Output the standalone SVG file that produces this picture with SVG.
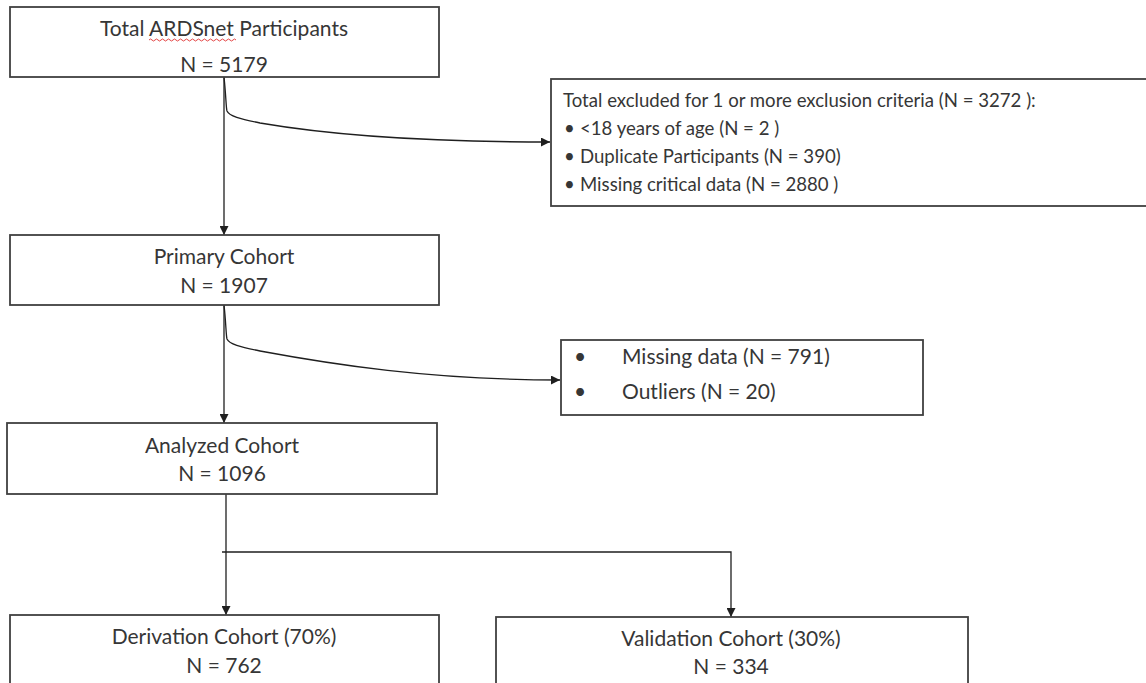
<svg xmlns="http://www.w3.org/2000/svg" width="1146" height="683" viewBox="0 0 1146 683">
<defs>
<marker id="ah" viewBox="0 0 10 10" refX="10" refY="5" markerWidth="9" markerHeight="9" markerUnits="userSpaceOnUse" orient="auto">
<path d="M0,0 L10,5 L0,10 z" fill="#1f1f1f"/>
</marker>
<style>
.box{fill:#ffffff;stroke:#404040;stroke-width:1.8}
.t{font-family:Lato,"Liberation Sans",sans-serif;font-size:21px;fill:#363636}
.s{font-size:18.6px}
.c{text-anchor:middle}
.ln{fill:none;stroke:#1f1f1f;stroke-width:1.3}
</style>
</defs>
<rect width="1146" height="683" fill="#ffffff"/>
<g id="connectors">
<path class="ln" d="M224,77 L224,235" marker-end="url(#ah)"/>
<path class="ln" d="M224,77 C226,95 226,108 227,111 C229,116 240,119 260,123 C330,135 420,142 550,142" marker-end="url(#ah)"/>
<path class="ln" d="M224,305 L224,423" marker-end="url(#ah)"/>
<path class="ln" d="M224,305 C226,322 226,336 227,339 C229,344 240,347 260,351 C330,364 430,380 560,380" marker-end="url(#ah)"/>
<path class="ln" d="M226,494 L226,615" marker-end="url(#ah)"/>
<path class="ln" d="M222,552 L731,552 L731,617" marker-end="url(#ah)"/>
</g>
<g id="total">
<rect class="box" x="10" y="7" width="429" height="70"/>
<text class="t c" x="224" y="36">Total ARDSnet Participants</text>
<text class="t c" x="224" y="72">N = 5179</text>
<path d="M149,40 q1.5,-2 3,0 t3,0 t3,0 t3,0 t3,0 t3,0 t3,0 t3,0 t3,0 t3,0 t3,0 t3,0 t3,0 t3,0 t3,0 t3,0 t3,0 t3,0 t3,0 t3,0 t3,0 t3,0 t3,0 t3,0 t3,0 t3,0 t3,0 t3,0 t3,0" fill="none" stroke="#e03030" stroke-width="0.9"/>
</g>
<g id="excluded">
<rect class="box" x="551" y="79" width="600" height="127"/>
<text class="t s" x="563" y="107">Total excluded for 1 or more exclusion criteria (N = 3272 ):</text>
<text class="t s" x="564" y="135">•</text>
<text class="t s" x="580" y="135">&lt;18 years of age (N = 2 )</text>
<text class="t s" x="564" y="163">•</text>
<text class="t s" x="580" y="163">Duplicate Participants (N = 390)</text>
<text class="t s" x="564" y="191">•</text>
<text class="t s" x="580" y="191">Missing critical data (N = 2880 )</text>
</g>
<g id="primary">
<rect class="box" x="10" y="235" width="429" height="70"/>
<text class="t c" x="224" y="264">Primary Cohort</text>
<text class="t c" x="224" y="293">N = 1907</text>
</g>
<g id="removed">
<rect class="box" x="561" y="340" width="362" height="75"/>
<text class="t" x="574" y="364">•</text>
<text class="t" x="622" y="364">Missing data (N = 791)</text>
<text class="t" x="574" y="399">•</text>
<text class="t" x="622" y="399">Outliers (N = 20)</text>
</g>
<g id="analyzed">
<rect class="box" x="7" y="423" width="430" height="71"/>
<text class="t c" x="222" y="453">Analyzed Cohort</text>
<text class="t c" x="222" y="481">N = 1096</text>
</g>
<g id="derivation">
<rect class="box" x="10" y="615" width="429" height="80"/>
<text class="t c" x="224" y="644">Derivation Cohort (70%)</text>
<text class="t c" x="224" y="673">N = 762</text>
</g>
<g id="validation">
<rect class="box" x="496" y="617" width="472" height="80"/>
<text class="t c" x="731" y="646">Validation Cohort (30%)</text>
<text class="t c" x="731" y="674">N = 334</text>
</g>
</svg>
